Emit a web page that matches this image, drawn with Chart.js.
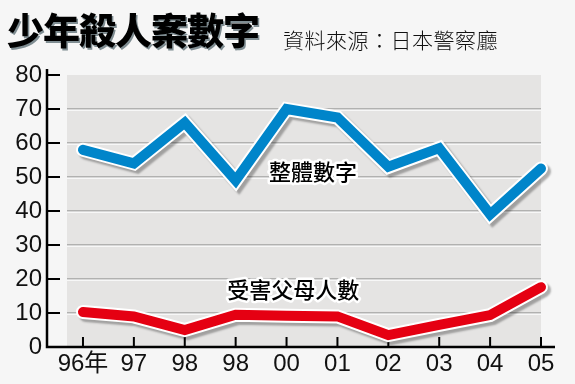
<!DOCTYPE html>
<html><head><meta charset="utf-8">
<script src="https://cdn.jsdelivr.net/npm/chart.js@4"></script>
<style>
html,body{margin:0;padding:0;background:#f6f6f6;}
#wrap{position:relative;width:575px;height:384px;overflow:hidden;background:#f6f6f6;}
#chart{position:absolute;left:0;top:0;}
#title{position:absolute;left:7px;top:7px;z-index:2;font-family:"Noto Sans CJK TC";font-weight:900;font-size:37px;line-height:44px;letter-spacing:-1px;color:#000;text-shadow:1.5px 1.5px 0 #7f8d92;white-space:nowrap;}
#source{position:absolute;left:283px;top:27px;z-index:2;font-family:"Noto Sans CJK TC";font-weight:300;font-size:21px;line-height:24px;letter-spacing:0.5px;color:#111;white-space:nowrap;}
</style></head>
<body>
<div id="wrap">
<canvas id="chart" width="575" height="384"></canvas>
<div id="title">少年殺人案數字</div>
<div id="source">資料來源：日本警察廳</div>
</div>
<script>
const years = ['96年','97','98','98','00','01','02','03','04','05'];
const totalCases = [58, 54, 66, 49, 70, 67.5, 53, 58.5, 39, 52.5];
const parentVictims = [10.3, 9, 5, 9.5, 9.2, 9, 3.5, 6.5, 9.4, 17.6];
const yTickValues = [0, 10, 20, 30, 40, 50, 60, 70, 80];
const seriesLabels = ['整體數字', '受害父母人數'];

const toPoints = arr => arr.map((v, i) => ({x: i, y: v}));

const decor = {
  id: 'decor',
  beforeDatasetsDraw(chart) {
    const {ctx, chartArea, scales: {x, y}} = chart;
    const left = chartArea.left;
    const bottom = y.getPixelForValue(0);
    const top = y.getPixelForValue(80);
    const bgLeft = left + 20;
    const bgRight = x.getPixelForValue(years.length - 1);
    ctx.save();
    ctx.fillStyle = '#e5e4e3';
    ctx.fillRect(bgLeft, top, bgRight - bgLeft, bottom - top);
    yTickValues.forEach(v => {
      if (v === 0 || v === 80) return;
      const py = Math.round(y.getPixelForValue(v));
      ctx.fillStyle = '#7e7e7e';
      ctx.fillRect(bgLeft, py - 0.5, bgRight - bgLeft, 1);
      ctx.fillStyle = '#ffffff';
      ctx.fillRect(bgLeft, py + 0.5, bgRight - bgLeft, 1.2);
    });
    ctx.strokeStyle = '#000';
    ctx.lineWidth = 2.5;
    ctx.beginPath();
    ctx.moveTo(left, top - 6);
    ctx.lineTo(left, bottom);
    ctx.lineTo(chartArea.right, bottom);
    ctx.stroke();
    ctx.lineWidth = 2;
    ctx.beginPath();
    yTickValues.forEach(v => {
      if (v === 0) return;
      const py = y.getPixelForValue(v);
      ctx.moveTo(left, py);
      ctx.lineTo(left + 13, py);
    });
    years.forEach((_, i) => {
      const px = x.getPixelForValue(i);
      ctx.moveTo(px, bottom);
      ctx.lineTo(px, bottom - 10);
    });
    ctx.stroke();
    ctx.restore();
  },
  beforeDatasetDraw(chart, args) {
    const ds = chart.data.datasets[args.index];
    if (ds.isOutline) {
      const ctx = chart.ctx;
      ctx.save();
      ctx.shadowColor = 'rgba(0,0,0,0.3)';
      ctx.shadowOffsetX = 3;
      ctx.shadowOffsetY = 3;
      ctx.shadowBlur = 2;
    }
  },
  afterDatasetDraw(chart, args) {
    const ds = chart.data.datasets[args.index];
    if (ds.isOutline) chart.ctx.restore();
  },
  afterDatasetsDraw(chart) {
    const {ctx, scales: {x, y}} = chart;
    const labelPos = [[4.52, 51.5], [4.13, 16.8]];
    ctx.save();
    ctx.font = '500 22px "Noto Sans CJK TC"';
    ctx.textAlign = 'center';
    ctx.textBaseline = 'middle';
    ctx.lineJoin = 'round';
    seriesLabels.forEach((t, i) => {
      const px = x.getPixelForValue(labelPos[i][0]);
      const py = y.getPixelForValue(labelPos[i][1]);
      ctx.strokeStyle = '#ffffff';
      ctx.lineWidth = 5;
      ctx.strokeText(t, px, py);
      ctx.fillStyle = '#000';
      ctx.fillText(t, px, py);
    });
    ctx.restore();
  }
};

const lineBase = {
  tension: 0, pointRadius: 0, pointHoverRadius: 0, fill: false,
  borderCapStyle: 'round', borderJoinStyle: 'miter', clip: false
};

new Chart(document.getElementById('chart'), {
  type: 'line',
  data: {
    datasets: [
      Object.assign({}, lineBase, {label: seriesLabels[0], data: toPoints(totalCases), borderColor: '#0085ca', borderWidth: 10}),
      Object.assign({}, lineBase, {label: seriesLabels[0] + ' outline', data: toPoints(totalCases), borderColor: '#ffffff', borderWidth: 14, isOutline: true}),
      Object.assign({}, lineBase, {label: seriesLabels[1], data: toPoints(parentVictims), borderColor: '#e50012', borderWidth: 10}),
      Object.assign({}, lineBase, {label: seriesLabels[1] + ' outline', data: toPoints(parentVictims), borderColor: '#ffffff', borderWidth: 14, isOutline: true})
    ]
  },
  options: {
    responsive: false,
    animation: false,
    events: [],
    layout: {padding: {top: 75, right: 20, bottom: 0, left: 0}},
    plugins: {legend: {display: false}, tooltip: {enabled: false}, title: {display: false}},
    scales: {
      x: {
        type: 'linear', min: -0.707, max: 9.275,
        afterBuildTicks: s => { s.ticks = years.map((_, i) => ({value: i})); },
        afterFit: s => { s.height = 37; },
        grid: {display: false, drawTicks: false},
        border: {display: false},
        ticks: {
          autoSkip: false, maxRotation: 0, padding: 3, color: '#111',
          font: {family: '"Liberation Sans", "Noto Sans CJK TC"', size: 24},
          callback: v => years[v]
        }
      },
      y: {
        min: 0, max: 80,
        afterBuildTicks: s => { s.ticks = yTickValues.map(v => ({value: v})); },
        afterFit: s => { s.width = 47; },
        grid: {display: false, drawTicks: false},
        border: {display: false},
        ticks: {
          padding: 5, color: '#111',
          font: {family: '"Liberation Sans", "Noto Sans CJK TC"', size: 24}
        }
      }
    }
  },
  plugins: [decor]
});
</script>
</body></html>
